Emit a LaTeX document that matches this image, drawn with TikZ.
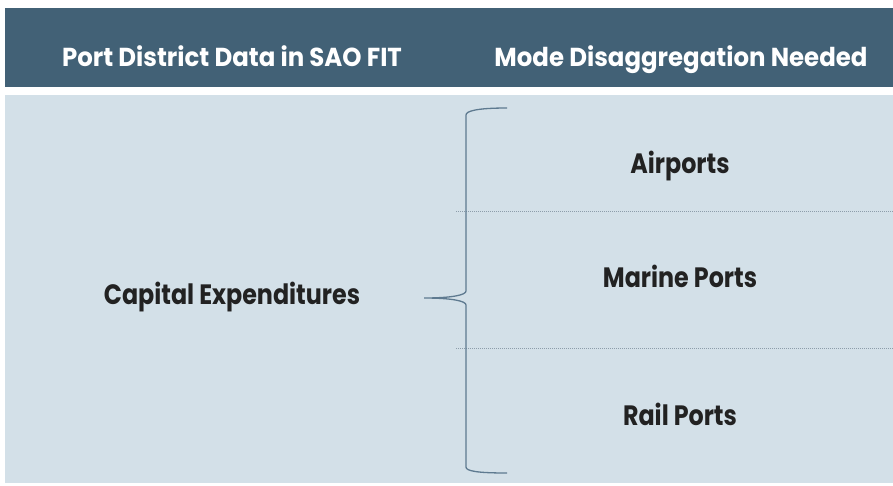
\documentclass[tikz,border=0pt]{standalone}
\usepackage{fontspec}
\setmainfont{Poppins}
\newfontfamily\hdrfont{Poppins}[FakeStretch=0.94]
\newfontfamily\bodyfont{Poppins}[FakeStretch=0.85]
\definecolor{hdr}{HTML}{426176}
\definecolor{panel}{HTML}{D3E0E8}
\definecolor{brace}{HTML}{5E7A90}
\definecolor{dots}{HTML}{8D9DAA}
\definecolor{txt}{HTML}{222222}
\begin{document}
\begin{tikzpicture}[x=1pt,y=-1pt,
  hdrtext/.style={text=white,font=\hdrfont\fontsize{26}{28}\selectfont\bfseries,anchor=base,inner sep=0pt},
  bodytext/.style={text=txt,font=\bodyfont\fontsize{28}{30}\selectfont\bfseries,anchor=base,inner sep=0pt},
  sep/.style={dots,line width=0.8pt,dash pattern=on 1pt off 1pt}]
\useasboundingbox (0,0) rectangle (893,485);
\fill[white] (0,0) rectangle (893,485);
\fill[hdr] (5,8) rectangle (893,87);
\fill[panel] (5,95) rectangle (893,483);
\node[hdrtext] (h1) at (232,66) {Port District Data in SAO FIT};
\node[hdrtext] (h2) at (681,66) {Mode Disaggregation Needed};
\draw[sep] (456,211) -- (893,211);
\draw[sep] (456,348) -- (893,348);
\draw[brace,line width=1.3pt] (507,108) .. controls (477,108) and (466,111) .. (466,115) -- (466,291)
  .. controls (466,295) and (452,298) .. (424,298)
  .. controls (452,298) and (466,301) .. (466,305) -- (466,467)
  .. controls (466,471) and (477,473) .. (507,473);
\node[bodytext] (cap) at (232,304) {Capital Expenditures};
\node[bodytext] (air) at (680,173) {Airports};
\node[bodytext] (mar) at (680,287) {Marine Ports};
\node[bodytext] (rail) at (680,425) {Rail Ports};
\end{tikzpicture}
\end{document}
